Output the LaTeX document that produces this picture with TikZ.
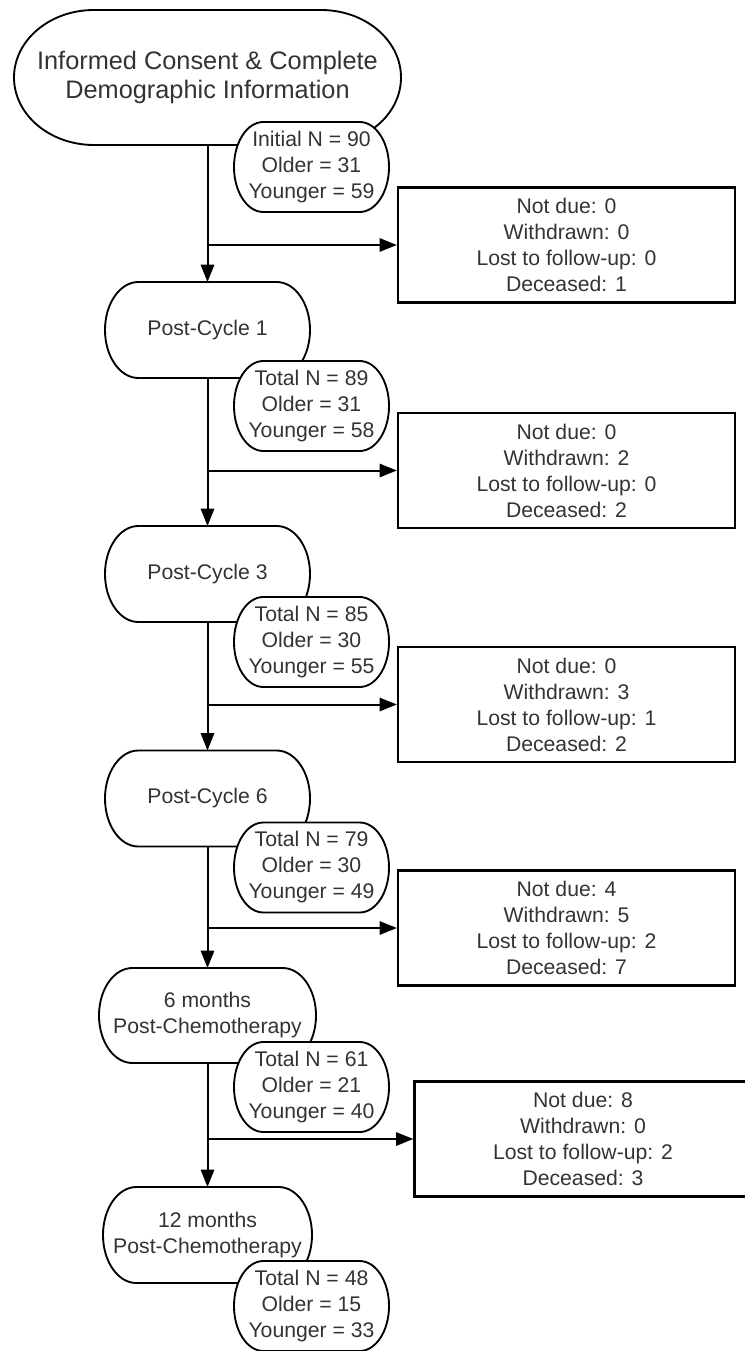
\documentclass[tikz,border=0pt]{standalone}
\usepackage{fontspec}
\setmainfont{Liberation Sans}
\usetikzlibrary{arrows.meta, calc, backgrounds}

% outline with elliptic ends, drawn behind a named node
\newcommand{\capsule}[2]{%
  \path[outline] let \p1=(#1.north east), \p2=(#1.south west), \n1={0.5*(\y1-\y2)} in
    (\x2+#2,\y1) -- (\x1-#2,\y1)
    arc[start angle=90, end angle=-90, x radius=#2, y radius=\n1]
    -- (\x2+#2,\y2)
    arc[start angle=270, end angle=90, x radius=#2, y radius=\n1] -- cycle;
}

\tikzset{
  stage/.style={inner sep=0pt, outer sep=0pt, minimum width=153.75pt, minimum height=72pt,
    align=center, text=black!80, font=\fontsize{15.9}{19.5}\selectfont},
  tally/.style={inner sep=0pt, outer sep=0pt, minimum width=116.25pt, minimum height=67.5pt,
    align=center, text=black!80, font=\fontsize{15.9}{19.5}\selectfont},
  lossbox/.style={draw, line width=1.7pt, minimum width=252.75pt, minimum height=86.25pt,
    align=center, text=black!80, font=\fontsize{15.9}{19.5}\selectfont},
  outline/.style={draw, fill=white, line width=1.4pt},
  flow/.style={-{Triangle[length=13pt, width=10pt]}, line width=1.5pt}
}

\begin{document}
\begin{tikzpicture}[x=0.75pt, y=-0.75pt]
\useasboundingbox (0,0) rectangle (744,1351);

% Enrolment
\node[stage, minimum width=290.25pt, minimum height=101.25pt, font=\fontsize{19}{21.5}\selectfont]
  (s0) at (207.5,77.5) {Informed Consent \& Complete\\Demographic Information};
\node[tally] (c0) at (311.5,167) {Initial N = 90\\Older = 31\\Younger = 59};
\node[lossbox] (b1) at (566.5,245) {Not due: 0\\Withdrawn: 0\\Lost to follow-up: 0\\Deceased: 1};

% Post-Cycle 1
\node[stage] (s1) at (207.5,330) {Post-Cycle 1};
\node[tally] (c1) at (311.5,406) {Total N = 89\\Older = 31\\Younger = 58};
\node[lossbox] (b2) at (566.5,470.5) {Not due: 0\\Withdrawn: 2\\Lost to follow-up: 0\\Deceased: 2};

% Post-Cycle 3
\node[stage] (s3) at (207.5,574) {Post-Cycle 3};
\node[tally] (c3) at (311.5,642) {Total N = 85\\Older = 30\\Younger = 55};
\node[lossbox] (b3) at (566.5,704.5) {Not due: 0\\Withdrawn: 3\\Lost to follow-up: 1\\Deceased: 2};

% Post-Cycle 6
\node[stage] (s6) at (207.5,798.5) {Post-Cycle 6};
\node[tally] (c6) at (311.5,867.5) {Total N = 79\\Older = 30\\Younger = 49};
\node[lossbox] (b4) at (566.5,928) {Not due: 4\\Withdrawn: 5\\Lost to follow-up: 2\\Deceased: 7};

% 6 months
\node[stage, minimum width=162.75pt, minimum height=71.25pt] (m6) at (207.5,1015.5) {6 months\\Post-Chemotherapy};
\node[tally] (cm6) at (311.5,1087) {Total N = 61\\Older = 21\\Younger = 40};
\node[lossbox] (b5) at (583,1139) {Not due: 8\\Withdrawn: 0\\Lost to follow-up: 2\\Deceased: 3};

% 12 months
\node[stage, minimum width=156.75pt] (m12) at (207.5,1235) {12 months\\Post-Chemotherapy};
\node[tally] (cm12) at (311.5,1306) {Total N = 48\\Older = 15\\Younger = 33};

% Outlines behind the texts
\begin{pgfonlayer}{background}
\capsule{s0}{60pt}
\capsule{c0}{22pt}
\capsule{s1}{25pt}
\capsule{c1}{22pt}
\capsule{s3}{25pt}
\capsule{c3}{22pt}
\capsule{s6}{25pt}
\capsule{c6}{22pt}
\capsule{m6}{25pt}
\capsule{cm6}{22pt}
\capsule{m12}{25pt}
\capsule{cm12}{22pt}
\end{pgfonlayer}

% Flow down and losses to the right
\draw[flow] (s0.south) -- (s1.north);
\draw[flow] (s0.south |- b1.west) -- (b1.west);
\draw[flow] (s1.south) -- (s3.north);
\draw[flow] (s1.south |- b2.west) -- (b2.west);
\draw[flow] (s3.south) -- (s6.north);
\draw[flow] (s3.south |- b3.west) -- (b3.west);
\draw[flow] (s6.south) -- (m6.north);
\draw[flow] (s6.south |- b4.west) -- (b4.west);
\draw[flow] (m6.south) -- (m12.north);
\draw[flow] (m6.south |- b5.west) -- (b5.west);

\end{tikzpicture}
\end{document}
